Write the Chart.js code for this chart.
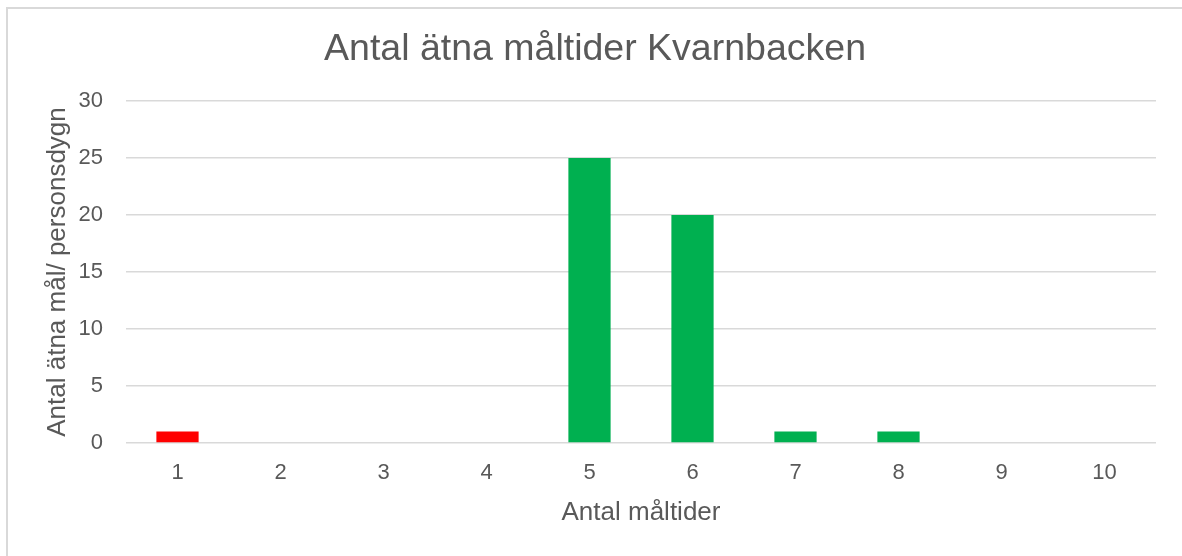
<!DOCTYPE html>
<html>
<head>
<meta charset="utf-8">
<script src="https://cdn.jsdelivr.net/npm/chart.js@4"></script>
<style>
  html, body { margin: 0; padding: 0; background: #fff; overflow: hidden; }
  #frame { position: absolute; left: 6px; top: 7px; width: 1190px; height: 570px; border: 2px solid #d9d9d9; }
  #wrap { position: absolute; left: 0; top: 0; width: 1182px; height: 556px; }
</style>
</head>
<body>
<div id="frame"></div>
<div id="wrap"><canvas id="chart"></canvas></div>
<script>
// Chart data
const categories = ['1', '2', '3', '4', '5', '6', '7', '8', '9', '10'];
const meals = [1, 0, 0, 0, 25, 20, 1, 1, 0, 0];
const barColors = ['#ff0000', '#00b050', '#00b050', '#00b050', '#00b050', '#00b050', '#00b050', '#00b050', '#00b050', '#00b050'];

const textColor = '#595959';
const gridColor = '#d9d9d9';
const fontFamily = '"Liberation Sans", Arial, sans-serif';

const ctx = document.getElementById('chart').getContext('2d');
new Chart(ctx, {
  type: 'bar',
  data: {
    labels: categories,
    datasets: [{
      data: meals,
      backgroundColor: barColors,
      borderWidth: 0,
      barPercentage: 0.41,
      categoryPercentage: 1
    }]
  },
  options: {
    responsive: true,
    maintainAspectRatio: false,
    animation: false,
    layout: { padding: { top: 27, right: 26, left: 34, bottom: 0 } },
    plugins: {
      legend: { display: false },
      tooltip: { enabled: false },
      title: {
        display: true,
        text: 'Antal ätna måltider Kvarnbacken',
        color: textColor,
        font: { family: fontFamily, size: 37.5, weight: 'normal' },
        padding: { top: 0, bottom: 29 }
      }
    },
    scales: {
      x: {
        grid: { display: false },
        border: { display: false },
        ticks: { color: textColor, font: { family: fontFamily, size: 22 }, padding: 9 },
        title: {
          display: true,
          text: 'Antal måltider',
          color: textColor,
          font: { family: fontFamily, size: 26 },
          padding: { top: 0, bottom: 28 }
        },
        afterFit: axis => { axis.height = 113; }
      },
      y: {
        min: 0,
        max: 30,
        ticks: { stepSize: 5, color: textColor, font: { family: fontFamily, size: 22 }, padding: 23 },
        grid: { color: gridColor, lineWidth: 1.5, drawTicks: false },
        border: { display: false },
        title: {
          display: true,
          text: 'Antal ätna mål/ personsdygn',
          color: textColor,
          font: { family: fontFamily, size: 26 },
          padding: { top: 8, bottom: 0 }
        },
        afterFit: axis => { axis.width = 92; }
      }
    }
  }
});
</script>
</body>
</html>
